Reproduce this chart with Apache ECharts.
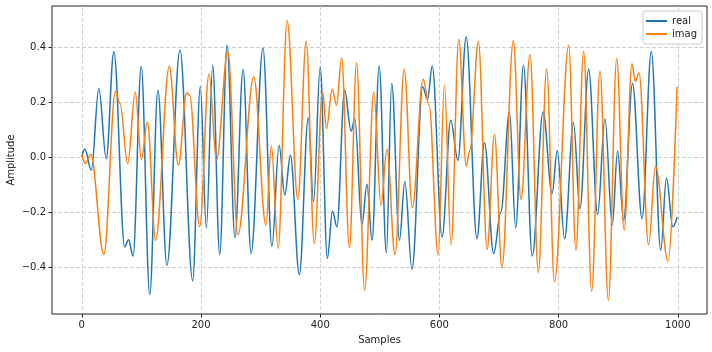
<!DOCTYPE html>
<html>
<head>
<meta charset="utf-8">
<script src="https://cdn.jsdelivr.net/npm/echarts@6/dist/echarts.min.js"></script>
<style>
  html, body { margin: 0; padding: 0; background: #fff; }
  #main { width: 712px; height: 352px; }
</style>
</head>
<body>
<div id="main"></div>
<script>
// real part: sample index of each turning point, and its amplitude
var realSamples = [0, 5, 16, 28.6, 41, 53.8, 72, 78.4, 86, 99.7, 114, 127.7, 142.8, 164.7, 186, 198.8, 209, 219.6, 231.4, 243.7,
    257, 270.6, 284, 304, 319, 331, 340.6, 350, 365, 380, 388.8, 400, 412, 420.7, 428, 441, 452, 458, 470, 478.5,
    487, 499, 511, 520, 533, 542, 554, 572, 580, 588, 604.5, 619, 631, 645, 663, 675.6, 691, 703, 717.6, 728,
    741, 755.8, 774, 789, 797.8, 810, 825, 835.8, 850.4, 865.5, 877.8, 890, 899, 909, 924, 940, 955.6, 971.4, 981, 991.6, 999];
var realValues = [0.0, 0.03, -0.047, 0.25, -0.005, 0.385, -0.326, -0.30, -0.359, 0.33, -0.50, 0.244, -0.393, 0.39, -0.449, 0.256, -0.257, 0.335, -0.354, 0.407,
    -0.292, 0.32, -0.35, 0.397, -0.324, 0.044, -0.138, 0.007, -0.427, 0.144, -0.162, 0.328, -0.368, -0.195, -0.253, 0.244, 0.095, 0.14, -0.245, -0.098,
    -0.302, 0.332, -0.347, 0.268, -0.302, -0.087, -0.407, 0.256, 0.21, 0.332, -0.29, 0.135, -0.011, 0.437, -0.296, 0.053, -0.35, -0.2, 0.165, -0.257,
    0.335, -0.359, 0.165, -0.132, 0.025, -0.296, 0.126, -0.187, 0.32, -0.208, 0.14, -0.247, 0.023, -0.229, 0.268, -0.223, 0.385, -0.338, -0.075, -0.253, -0.217];

// imaginary part
var imagSamples = [0, 6, 15, 37, 56.6, 64, 77, 89.6, 100, 110, 123.8, 146.8, 162, 176, 181, 197.8, 213.4, 226, 245, 262,
    288.5, 309, 318, 329.4, 344.5, 362.5, 376.5, 390, 404, 410.6, 420, 427.4, 436, 449, 461, 474.5, 490, 502, 512, 525.5,
    541, 554.6, 572.6, 582.7, 597.8, 608.4, 619.6, 632.5, 645, 651, 665.5, 680, 692.4, 705, 724, 737, 752, 766, 780, 793,
    817, 829, 842, 855.5, 869.5, 883.5, 897.5, 910, 923, 929, 935, 951, 962.5, 983.7, 998.8];
var imagValues = [0.01, -0.023, 0.01, -0.353, 0.24, 0.196, -0.023, 0.237, -0.008, 0.128, -0.302, 0.331, -0.029, 0.235, 0.225, -0.253, 0.304, -0.011, 0.385, -0.281,
    0.292, -0.247, 0.041, -0.332, 0.497, -0.153, 0.422, -0.314, 0.24, 0.104, 0.247, 0.19, 0.361, -0.33, 0.344, -0.484, 0.238, -0.175, 0.029, -0.354,
    0.32, -0.183, 0.284, 0.189, -0.356, 0.262, -0.318, 0.428, -0.032, 0.025, 0.42, -0.335, 0.082, -0.402, 0.425, -0.153, 0.373, -0.419, 0.322, -0.453,
    0.407, -0.338, 0.385, -0.487, 0.313, -0.52, 0.359, -0.265, 0.34, 0.276, 0.307, -0.318, -0.032, -0.378, 0.256];

var xTicks = [0, 200, 400, 600, 800, 1000];
var yTicks = [-0.4, -0.2, 0.0, 0.2, 0.4];

function pairs(xs, ys) {
    var out = [];
    for (var i = 0; i < xs.length; i++) {
        out.push([xs[i], ys[i]]);
    }
    return out;
}

var font = 'DejaVu Sans';
var gridLine = { show: true, lineStyle: { color: '#c4c4c4', width: 0.8, type: [4, 2] } };

var myChart = echarts.init(document.getElementById('main'));
var option = {
    animation: false,
    backgroundColor: '#fff',
    grid: {
        left: 52, right: 5, top: 6, bottom: 38,
        outerBoundsMode: 'none',
        containLabel: false,
        show: true,
        borderColor: '#222',
        borderWidth: 1
    },
    legend: {
        right: 10,
        top: 11,
        orient: 'vertical',
        icon: 'rect',
        itemWidth: 21,
        itemHeight: 2,
        itemGap: 3,
        padding: [5, 5, 5, 3],
        backgroundColor: 'rgba(255,255,255,0.8)',
        borderColor: '#cccccc',
        borderWidth: 1,
        borderRadius: 3,
        textStyle: { fontFamily: font, fontSize: 10, color: '#222' },
        data: ['real', 'imag']
    },
    xAxis: {
        type: 'value',
        min: -50,
        max: 1049,
        name: 'Samples',
        nameLocation: 'middle',
        nameGap: 21,
        nameMoveOverlap: false,
        nameTextStyle: { fontFamily: font, fontSize: 10, color: '#222' },
        axisLine: { show: false, onZero: false },
        axisTick: { show: true, length: 3.5, customValues: xTicks, lineStyle: { color: '#222' } },
        axisLabel: {
            customValues: xTicks, margin: 6, fontFamily: font, fontSize: 10, color: '#222',
            formatter: function (v) { return String(v); }
        },
        splitLine: gridLine
    },
    yAxis: {
        type: 'value',
        min: -0.57,
        max: 0.55,
        name: 'Amplitude',
        nameLocation: 'middle',
        nameGap: 36,
        nameMoveOverlap: false,
        nameTextStyle: { fontFamily: font, fontSize: 10, color: '#222' },
        axisLine: { show: false, onZero: false },
        axisTick: { show: true, length: 3.5, customValues: yTicks, lineStyle: { color: '#222' } },
        axisLabel: {
            customValues: yTicks, margin: 6,
            fontFamily: font, fontSize: 10, color: '#222',
            formatter: function (v) { return v.toFixed(1).replace('-', '\u2212'); }
        },
        splitLine: gridLine
    },
    series: [
        {
            name: 'real',
            type: 'line',
            showSymbol: false,
            smooth: 0.36,
            smoothMonotone: 'x',
            color: '#1f77b4',
            lineStyle: { width: 1.5, color: '#1f77b4' },
            data: pairs(realSamples, realValues)
        },
        {
            name: 'imag',
            type: 'line',
            showSymbol: false,
            smooth: 0.36,
            smoothMonotone: 'x',
            color: '#ff7f0e',
            lineStyle: { width: 1.5, color: '#ff7f0e' },
            data: pairs(imagSamples, imagValues)
        }
    ]
};
myChart.setOption(option);
</script>
</body>
</html>
